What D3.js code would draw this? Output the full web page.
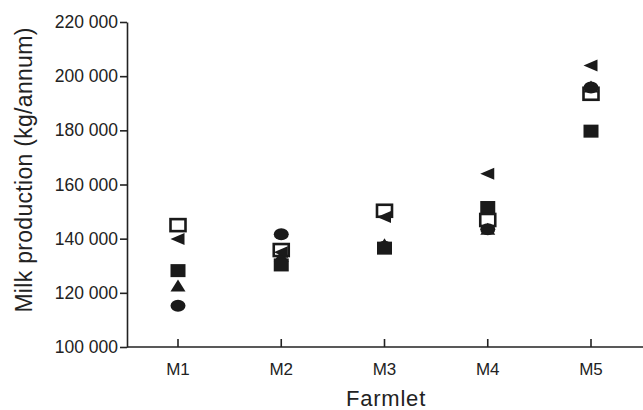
<!DOCTYPE html>
<html>
<head>
<meta charset="utf-8">
<script src="https://cdn.jsdelivr.net/npm/d3@7"></script>
<style>
  html, body { margin: 0; padding: 0; background: #fff; }
  svg { display: block; font-family: "Liberation Sans", Arial, Helvetica, sans-serif; }
</style>
</head>
<body>
<svg id="chart" width="643" height="410"></svg>
<script>
// Annual milk production per farmlet, one series per marker type
const farmlets = ["M1", "M2", "M3", "M4", "M5"];
const openSquare   = [145000, 135800, 150300, 146900, 193500];
const leftTriangle = [139900, 135000, 148000, 164000, 203900];
const filledSquare = [128200, 130300, 136500, 151500, 179700];
const upTriangle   = [122500, 133400, 137800, 143500, 196000];
const circleSeries = [115200, 141600, 137000, 143500, 195800];
const yTicks = [100000, 120000, 140000, 160000, 180000, 200000, 220000];

const svg = d3.select("#chart");
const margin = { left: 127, top: 22, right: 0, bottom: 63 };
const W = 643, H = 410;
const axisInk = "#222";

const x = d3.scalePoint().domain(farmlets).range([178, 591]);
const y = d3.scaleLinear().domain([100000, 220000]).range([H - margin.bottom, margin.top]);

const fmt = v => d3.format(",")(v).replace(/,/g, " ");

// y axis
const yAxis = svg.append("g")
  .attr("transform", `translate(${margin.left},0)`)
  .call(d3.axisLeft(y).tickValues(yTicks).tickFormat(fmt).tickSize(7).tickSizeOuter(0).tickPadding(2));
yAxis.select(".domain").attr("stroke", axisInk).attr("stroke-width", 1.6);
yAxis.selectAll(".tick line").attr("stroke", axisInk).attr("stroke-width", 1.6);
yAxis.selectAll(".tick text")
  .attr("font-size", 17.5).attr("fill", axisInk)
  .attr("font-family", "Liberation Sans, Arial, sans-serif");

// x axis (ticks point inward)
const xAxis = svg.append("g")
  .attr("transform", `translate(0,${y(100000)})`);
xAxis.append("line")
  .attr("x1", margin.left).attr("x2", W)
  .attr("stroke", axisInk).attr("stroke-width", 1.6);
xAxis.selectAll("line.tk").data(farmlets).join("line")
  .attr("class", "tk")
  .attr("x1", d => x(d)).attr("x2", d => x(d))
  .attr("y1", 0).attr("y2", -8)
  .attr("stroke", axisInk).attr("stroke-width", 1.6);
xAxis.selectAll("text").data(farmlets).join("text")
  .attr("x", d => x(d)).attr("y", 28)
  .attr("text-anchor", "middle")
  .attr("font-size", 17).attr("fill", axisInk)
  .text(d => d);

// axis titles
svg.append("text")
  .attr("x", 386).attr("y", 406)
  .attr("text-anchor", "middle").attr("font-size", 22).attr("letter-spacing", 0.8)
  .attr("fill", axisInk)
  .text("Farmlet");
svg.append("text")
  .attr("transform", `translate(32,170) rotate(-90)`)
  .attr("text-anchor", "middle").attr("font-size", 23).attr("letter-spacing", 0.3)
  .attr("fill", axisInk)
  .text("Milk production (kg/annum)");

// markers
const ink = "#1a1a1a";
const plot = svg.append("g");

function pts(values) {
  return farmlets.map((f, i) => ({ cx: x(f), cy: y(values[i]) }));
}

// filled circles (slightly wide)
plot.selectAll("ellipse.c").data(pts(circleSeries)).join("ellipse")
  .attr("class", "c")
  .attr("cx", d => d.cx).attr("cy", d => d.cy)
  .attr("rx", 7.5).attr("ry", 6).attr("fill", ink);

// up triangles
plot.selectAll("path.ut").data(pts(upTriangle)).join("path")
  .attr("class", "ut")
  .attr("d", d => `M${d.cx},${d.cy - 6.5} L${d.cx + 7.5},${d.cy + 5.5} L${d.cx - 7.5},${d.cy + 5.5} Z`)
  .attr("fill", ink);

// filled squares
plot.selectAll("rect.fs").data(pts(filledSquare)).join("rect")
  .attr("class", "fs")
  .attr("x", d => d.cx - 7.5).attr("y", d => d.cy - 6.5)
  .attr("width", 15).attr("height", 13).attr("fill", ink);

// open squares
plot.selectAll("rect.os").data(pts(openSquare)).join("rect")
  .attr("class", "os")
  .attr("x", d => d.cx - 7.5).attr("y", d => d.cy - 6)
  .attr("width", 15).attr("height", 12)
  .attr("fill", "none").attr("stroke", ink).attr("stroke-width", 2.6);

// left-pointing triangles
plot.selectAll("path.lt").data(pts(leftTriangle)).join("path")
  .attr("class", "lt")
  .attr("d", d => `M${d.cx - 7.5},${d.cy} L${d.cx + 6.5},${d.cy - 6} L${d.cx + 6.5},${d.cy + 6} Z`)
  .attr("fill", ink);
</script>
</body>
</html>
